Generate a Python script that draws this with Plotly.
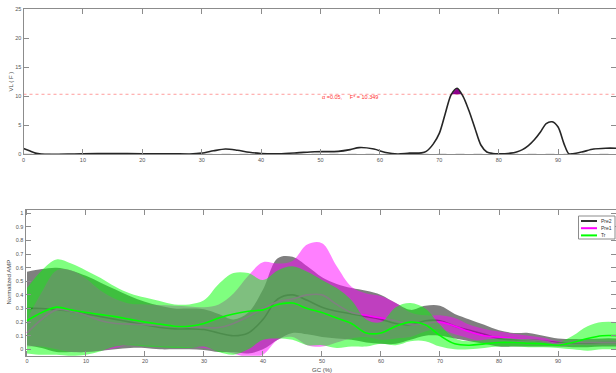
import plotly.graph_objects as go

W, H = 616, 373

# ---------------- data: top panel (SPM F statistic) ----------------
f_x = [0, 1, 2, 3, 5, 10, 15, 20, 25, 28, 30, 32, 34, 36, 38, 40, 43, 46, 49, 53,
       55, 56.5, 59, 61, 63, 65, 67, 67.8, 69, 70, 71, 72, 73, 74, 75, 76, 77, 78,
       79, 80, 82, 83, 84, 85, 86, 87, 88, 89, 90, 91, 91.8, 92.5, 94, 96, 98, 100]
f_val = [1.0, 0.6, 0.2, 0.05, 0.02, 0.1, 0.12, 0.1, 0.1, 0.05, 0.2, 0.6, 0.92, 0.7, 0.35,
         0.15, 0.1, 0.25, 0.45, 0.5, 0.8, 1.15, 0.9, 0.3, 0.05, 0.2, 0.25, 0.5, 1.8, 3.6,
         7.0, 10.3, 11.4, 10.0, 7.5, 4.5, 1.6, 0.4, 0.15, 0.1, 0.2, 0.4, 0.8, 1.5, 2.5, 3.8,
         5.3, 5.6, 4.7, 1.8, 0.1, 0.1, 0.4, 0.9, 1.05, 1.05]
f_thresh = 10.349
alpha_txt = "α =0.05,     F* = 10.349"

# ---------------- data: bottom panel (mean +/- SD) ----------------
gc = [0, 2.5, 5, 7.5, 10, 12.5, 15, 17.5, 20, 22.5, 25, 27.5, 30, 32.5, 35, 37.5, 40,
      42.5, 45, 47.5, 50, 52.5, 55, 57.5, 60, 62.5, 65, 67.5, 70, 72.5, 75, 77.5, 80,
      82.5, 85, 87.5, 90, 92.5, 95, 97.5, 100]

pre2_mean = [0.30, 0.30, 0.29, 0.28, 0.26, 0.24, 0.22, 0.20, 0.18, 0.16, 0.15, 0.15, 0.145,
             0.12, 0.10, 0.12, 0.22, 0.37, 0.40, 0.36, 0.31, 0.28, 0.26, 0.24, 0.22, 0.19,
             0.18, 0.21, 0.21, 0.17, 0.14, 0.11, 0.08, 0.07, 0.07, 0.06, 0.05, 0.045, 0.045,
             0.05, 0.05]
pre2_sd = [0.27, 0.29, 0.31, 0.30, 0.28, 0.25, 0.22, 0.19, 0.17, 0.16, 0.15, 0.15, 0.15,
           0.14, 0.12, 0.15, 0.22, 0.30, 0.28, 0.25, 0.22, 0.20, 0.19, 0.19, 0.18, 0.15,
           0.11, 0.11, 0.11, 0.09, 0.08, 0.07, 0.06, 0.05, 0.05, 0.04, 0.03, 0.03, 0.03,
           0.03, 0.03]

pre1_mean = [0.12, 0.22, 0.29, 0.28, 0.25, 0.21, 0.19, 0.185, 0.18, 0.175, 0.17, 0.165,
             0.16, 0.16, 0.19, 0.24, 0.30, 0.35, 0.37, 0.40, 0.40, 0.33, 0.27, 0.25, 0.23,
             0.21, 0.18, 0.19, 0.20, 0.17, 0.13, 0.10, 0.09, 0.08, 0.07, 0.06, 0.04, 0.05,
             0.05, 0.05, 0.05]
pre1_sd = [0.10, 0.20, 0.29, 0.30, 0.27, 0.22, 0.18, 0.15, 0.15, 0.15, 0.15, 0.15, 0.15,
           0.17, 0.22, 0.30, 0.34, 0.28, 0.28, 0.37, 0.38, 0.28, 0.19, 0.16, 0.16, 0.13,
           0.09, 0.06, 0.05, 0.06, 0.05, 0.05, 0.04, 0.035, 0.03, 0.025, 0.02, 0.02, 0.02,
           0.02, 0.02]

tr_mean = [0.21, 0.27, 0.31, 0.29, 0.27, 0.255, 0.24, 0.22, 0.20, 0.185, 0.17, 0.17, 0.19,
           0.23, 0.26, 0.28, 0.29, 0.33, 0.34, 0.30, 0.27, 0.23, 0.19, 0.12, 0.12, 0.17,
           0.20, 0.18, 0.10, 0.04, 0.03, 0.04, 0.05, 0.05, 0.045, 0.04, 0.03, 0.05, 0.08,
           0.10, 0.10]
tr_sd = [0.24, 0.31, 0.35, 0.34, 0.31, 0.27, 0.22, 0.19, 0.18, 0.17, 0.16, 0.16, 0.17,
         0.25, 0.30, 0.28, 0.22, 0.25, 0.27, 0.27, 0.24, 0.22, 0.17, 0.10, 0.08, 0.14,
         0.14, 0.12, 0.08, 0.04, 0.03, 0.03, 0.03, 0.03, 0.03, 0.025, 0.02, 0.05, 0.09,
         0.10, 0.10]

series = [
    ("Pre2", pre2_mean, pre2_sd, "#333333", "rgba(0,0,0,0.5)"),
    ("Pre1", pre1_mean, pre1_sd, "#ff00ff", "rgba(255,0,255,0.5)"),
    ("Tr", tr_mean, tr_sd, "#00ff00", "rgba(0,255,0,0.5)"),
]

fig = go.Figure()

# ---------------- top panel ----------------
fig.add_trace(go.Scatter(x=[0, 100], y=[0, 0], mode="lines", xaxis="x", yaxis="y",
                         line=dict(color="#8a8a8a", width=1, dash="dash"), showlegend=False))
fig.add_trace(go.Scatter(x=[0, 100], y=[f_thresh, f_thresh], mode="lines", xaxis="x", yaxis="y",
                         line=dict(color="rgba(255,90,90,0.6)", width=1, dash="dot"),
                         showlegend=False))

# supra-threshold cluster (computed from the curve data)
cx, cy = [], []
for i in range(1, len(f_x)):
    x0, y0, x1, y1 = f_x[i - 1], f_val[i - 1], f_x[i], f_val[i]
    if (y0 - f_thresh) * (y1 - f_thresh) < 0:
        cx.append(x0 + (f_thresh - y0) * (x1 - x0) / (y1 - y0))
        cy.append(f_thresh)
    if y1 > f_thresh:
        cx.append(x1)
        cy.append(y1)
fig.add_trace(go.Scatter(x=cx, y=cy, mode="lines", fill="toself", xaxis="x", yaxis="y",
                         fillcolor="rgb(140,0,140)", line=dict(color="rgb(140,0,140)", width=1),
                         showlegend=False))
fig.add_trace(go.Scatter(x=f_x, y=f_val, mode="lines", xaxis="x", yaxis="y",
                         line=dict(color="#262626", width=1.6, shape="spline", smoothing=0.8),
                         showlegend=False))

# ---------------- bottom panel ----------------
for name, m, sd, lc, fc in series:
    lo = [a - b for a, b in zip(m, sd)]
    hi = [a + b for a, b in zip(m, sd)]
    fig.add_trace(go.Scatter(x=gc, y=lo, mode="lines", xaxis="x2", yaxis="y2",
                             line=dict(width=0, shape="spline"), showlegend=False,
                             hoverinfo="skip"))
    fig.add_trace(go.Scatter(x=gc, y=hi, mode="lines", xaxis="x2", yaxis="y2",
                             line=dict(width=0, shape="spline"), fill="tonexty",
                             fillcolor=fc, showlegend=False, hoverinfo="skip"))
    fig.add_trace(go.Scatter(x=gc, y=m, mode="lines", xaxis="x2", yaxis="y2", name=name,
                             line=dict(color=lc, width=1.6, shape="spline"), showlegend=False))


def py(p):
    return 1 - p / H


FONT = "Liberation Sans, Arial, sans-serif"
tickfont = dict(family=FONT, size=5.5, color="#555555")
axcommon = dict(showline=True, linecolor="#8c8c8c", linewidth=1, mirror="ticks",
                ticks="inside", ticklen=5, tickwidth=1, tickcolor="#8c8c8c",
                showgrid=False, zeroline=False, tickfont=tickfont, automargin=False)

fig.update_layout(
    width=W, height=H,
    margin=dict(l=0, r=0, t=0, b=0),
    paper_bgcolor="white", plot_bgcolor="white",
    showlegend=False,
    xaxis=dict(domain=[23.5 / W, 1], range=[0, 99.75], anchor="y",
               tickvals=list(range(0, 101, 10)), **axcommon),
    yaxis=dict(domain=[py(154.3), py(9.3)], range=[0, 25], anchor="x",
               tickvals=[0, 5, 10, 15, 20, 25], **axcommon),
    xaxis2=dict(domain=[25.5 / W, 1], range=[-0.25, 99.83], anchor="y2",
                tickvals=list(range(0, 101, 10)), **axcommon),
    yaxis2=dict(domain=[py(355.7), py(210)], range=[-0.047, 1.024], anchor="x2",
                tickvals=[0, 0.1, 0.2, 0.3, 0.4, 0.5, 0.6, 0.7, 0.8, 0.9, 1],
                ticktext=["0", "0.1", "0.2", "0.3", "0.4", "0.5", "0.6", "0.7", "0.8",
                          "0.9", "1"], **axcommon),
)

lab = dict(family=FONT, size=6, color="#444444")
fig.add_annotation(text="VL ( F )", xref="paper", yref="paper", x=10.5 / W, y=py(82),
                   textangle=-90, showarrow=False, font=lab, xanchor="center", yanchor="middle")
fig.add_annotation(text="Normalized AMP", xref="paper", yref="paper", x=8.5 / W, y=py(282),
                   textangle=-90, showarrow=False, font=lab, xanchor="center", yanchor="middle")
fig.add_annotation(text="GC (%)", xref="paper", yref="paper", x=322 / W, y=py(369.5),
                   showarrow=False, font=lab, xanchor="center", yanchor="middle")
fig.add_annotation(text=alpha_txt, xref="x", yref="y", x=50, y=f_thresh, yshift=-2.5,
                   showarrow=False, xanchor="left", yanchor="middle",
                   font=dict(family=FONT, size=5.5, color="#ff3030"))

# ---------------- legend (drawn manually, compact like the original) ----------------
fig.add_shape(type="rect", xref="paper", yref="paper", x0=578.5 / W, x1=615 / W,
              y0=py(239), y1=py(216), line=dict(color="#8c8c8c", width=1), fillcolor="white")
for k, (name, m, sd, lc, fc) in enumerate(series):
    yy = 221 + 7.2 * k
    fig.add_shape(type="line", xref="paper", yref="paper", x0=581 / W, x1=597 / W,
                  y0=py(yy), y1=py(yy), line=dict(color=lc, width=2))
    fig.add_annotation(text=name, xref="paper", yref="paper", x=598.5 / W, y=py(yy),
                       showarrow=False, xanchor="left", yanchor="middle",
                       font=dict(family=FONT, size=5, color="#333333"))

fig.write_html("out.html")
